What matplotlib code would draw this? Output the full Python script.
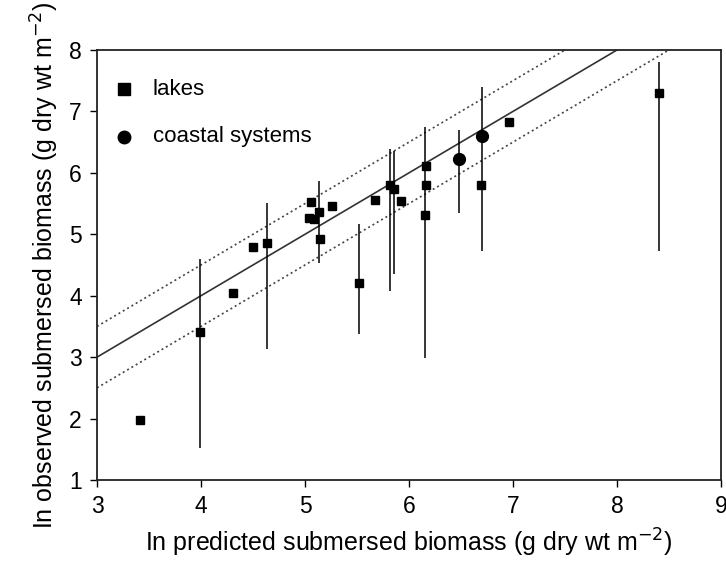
import matplotlib
matplotlib.use("Agg")
import matplotlib.pyplot as plt

plt.rcParams['font.family'] = ['Liberation Sans', 'DejaVu Sans']

# lakes: predicted vs observed (ln g dry wt m-2)
lake_x = [3.41, 3.99, 4.31, 4.50, 4.63, 5.06, 5.04, 5.09, 5.13, 5.14, 5.26,
          5.52, 5.67, 5.82, 5.86, 5.92, 6.16, 6.16, 6.15, 6.69, 6.96, 8.40]
lake_y = [1.97, 3.41, 4.04, 4.79, 4.86, 5.53, 5.27, 5.25, 5.36, 4.92, 5.46,
          4.21, 5.56, 5.81, 5.73, 5.54, 6.11, 5.81, 5.31, 5.81, 6.83, 7.30]
# error bar limits for lakes that have them (x, low, high)
lake_bar_x = [3.99, 4.63, 5.13, 5.52, 5.82, 5.86, 6.15, 8.40]
lake_bar_lo = [1.52, 3.14, 4.53, 3.38, 4.07, 4.36, 2.98, 4.72]
lake_bar_hi = [4.59, 5.51, 5.87, 5.17, 6.39, 6.35, 6.75, 7.81]

# coastal systems
coast_x = [6.48, 6.70]
coast_y = [6.22, 6.60]
coast_lo = [5.34, 4.72]
coast_hi = [6.69, 7.39]

# 1:1 line and band
line_x = [3, 9]
band = 0.5

legend_labels = ['lakes', 'coastal systems']

fig = plt.figure(figsize=(7.26, 5.61), dpi=100)
ax = fig.add_axes([0.1336, 0.1444, 0.8595, 0.7665])

ax.plot(line_x, line_x, color='#333333', lw=1.2)
ax.plot(line_x, [v + band for v in line_x], color='#444444', lw=1.2, ls=(0, (1.2, 1.8)))
ax.plot(line_x, [v - band for v in line_x], color='#444444', lw=1.2, ls=(0, (1.2, 1.8)))

ax.vlines(lake_bar_x, lake_bar_lo, lake_bar_hi, color='black', lw=1.1)
ax.vlines(coast_x, coast_lo, coast_hi, color='black', lw=1.1)

ax.plot(lake_x, lake_y, 's', color='black', ms=5.5, ls='none')
ax.plot(coast_x, coast_y, 'o', color='black', ms=8.5, ls='none')

# legend drawn by hand
ax.plot([0.043], [0.909], 's', color='black', ms=8, transform=ax.transAxes, clip_on=False)
ax.plot([0.043], [0.798], 'o', color='black', ms=9, transform=ax.transAxes, clip_on=False)
ax.text(0.089, 0.909, legend_labels[0], transform=ax.transAxes, fontsize=16, va='center')
ax.text(0.089, 0.798, legend_labels[1], transform=ax.transAxes, fontsize=16, va='center')

ax.set_xlim(3, 9)
ax.set_ylim(1, 8)
ax.set_xticks(range(3, 10))
ax.set_yticks(range(1, 9))
ax.tick_params(labelsize=16.5, direction='out', length=5, width=1, pad=6)
for s in ax.spines.values():
    s.set_linewidth(1.3)
    s.set_color('#222222')

ax.set_xlabel('In predicted submersed biomass (g dry wt m$^{-2}$)', fontsize=18, labelpad=6)
ax.set_ylabel('In observed submersed biomass (g dry wt m$^{-2}$)', fontsize=18, labelpad=6)

fig.savefig('out.png', dpi=100)
